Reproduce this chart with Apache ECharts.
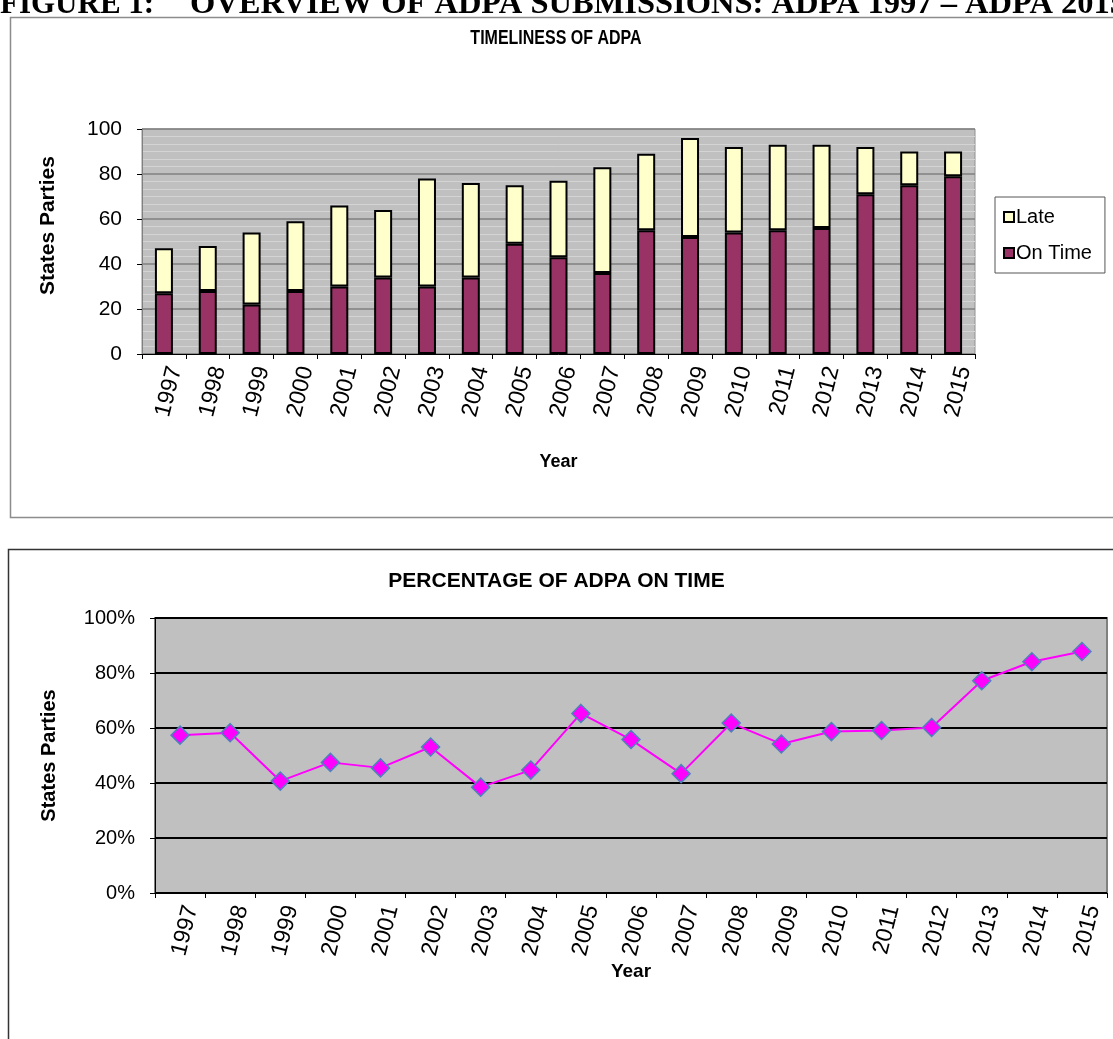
<!DOCTYPE html>
<html>
<head>
<meta charset="utf-8">
<style>
  html, body { margin: 0; padding: 0; background: #fff; }
  #chart { width: 1113px; height: 1039px; }
</style>
<script src="https://cdn.jsdelivr.net/npm/echarts@6/dist/echarts.min.js"></script>
</head>
<body>
<div id="chart"></div>
<script>
// data
var years = ['1997', '1998', '1999', '2000', '2001', '2002', '2003', '2004', '2005', '2006',
             '2007', '2008', '2009', '2010', '2011', '2012', '2013', '2014', '2015'];
var onTime = [27, 28, 22, 28, 30, 34, 30, 34, 49, 43, 36, 55, 52, 54, 55, 56, 71, 75, 79];
var late = [20, 20, 32, 31, 36, 30, 48, 42, 26, 34, 47, 34, 44, 38, 38, 37, 21, 15, 11];
var pctOnTime = [0.574, 0.583, 0.407, 0.475, 0.455, 0.531, 0.385, 0.447, 0.653, 0.558,
                 0.434, 0.618, 0.542, 0.587, 0.591, 0.602, 0.772, 0.841, 0.878];
var countTicks = [0, 20, 40, 60, 80, 100];
var pctTicks = [0, 0.2, 0.4, 0.6, 0.8, 1];

var font = 'Liberation Sans, Arial, sans-serif';
var serif = 'Liberation Serif, Times New Roman, serif';
var myChart = echarts.init(document.getElementById('chart'), null, { renderer: 'canvas' });

var yearLabel = { rotate: 76, fontSize: 23, color: '#000', margin: 10, verticalAlign: 'top' };

myChart.setOption({
  animation: false,
  textStyle: { fontFamily: font, color: '#000' },
  graphic: [
    { type: 'rect', shape: { x: 10.5, y: 17.5, width: 1120, height: 500 },
      style: { fill: 'none', stroke: '#8c8c8c', lineWidth: 1.5 } },
    { type: 'rect', shape: { x: 8.5, y: 549.5, width: 1120, height: 500 },
      style: { fill: 'none', stroke: '#333', lineWidth: 1.5 } },
    // page heading, cut off at the top like the scan
    { type: 'text', style: { x: 0, y: 5, text: 'FIGURE 1:', verticalAlign: 'middle',
      font: 'bold 31px ' + serif, fill: '#000' } },
    { type: 'text', style: { x: 190, y: 5, text: 'OVERVIEW OF ADPA SUBMISSIONS: ADPA 1997 \u2013 ADPA 2015',
      verticalAlign: 'middle', font: 'bold 32.5px ' + serif, fill: '#000' } },
    // narrow title of the top chart
    { type: 'text', x: 556, y: 38, scaleX: 0.8,
      style: { text: 'TIMELINESS OF ADPA', align: 'center', verticalAlign: 'middle',
        font: 'bold 20px ' + font, fill: '#000' } }
  ],
  title: [
    { text: 'PERCENTAGE OF ADPA ON TIME', left: 'center', top: 566,
      textStyle: { fontFamily: font, fontWeight: 'bold', fontSize: 21, color: '#000' } }
  ],
  legend: {
    orient: 'vertical',
    left: 995, top: 197,
    padding: [10, 13, 10, 8],
    itemGap: 16,
    itemWidth: 10, itemHeight: 10,
    borderColor: '#555', borderWidth: 1,
    data: [
      { name: 'Late', icon: 'rect', itemStyle: { borderColor: '#000', borderWidth: 2 } },
      { name: 'On Time', icon: 'rect', itemStyle: { borderColor: '#000', borderWidth: 2 } }
    ],
    textStyle: { fontSize: 20, color: '#000', padding: [0, 0, 0, -3] }
  },
  grid: [
    { left: 142, top: 129, width: 833, height: 225, show: true, backgroundColor: '#c0c0c0',
      borderColor: '#909090', borderWidth: 1 },
    { left: 155, top: 618, width: 952, height: 275, show: true, backgroundColor: '#c0c0c0',
      borderColor: '#808080', borderWidth: 2 }
  ],
  xAxis: [
    { type: 'category', gridIndex: 0, data: years,
      name: 'Year', nameLocation: 'middle', nameGap: 99,
      nameTextStyle: { fontWeight: 'bold', fontSize: 18 },
      axisLine: { lineStyle: { color: '#000', width: 1 } },
      axisTick: { show: true, length: 5, lineStyle: { color: '#000' } },
      axisLabel: yearLabel },
    { type: 'category', gridIndex: 1, data: years,
      name: 'Year', nameLocation: 'middle', nameGap: 65,
      nameTextStyle: { fontWeight: 'bold', fontSize: 19 },
      axisLine: { lineStyle: { color: '#000', width: 1 } },
      axisTick: { show: true, length: 5, lineStyle: { color: '#000' } },
      axisLabel: yearLabel }
  ],
  yAxis: [
    { type: 'value', gridIndex: 0, min: countTicks[0], max: countTicks[countTicks.length - 1], interval: 20,
      name: 'States Parties', nameLocation: 'middle', nameGap: 83,
      nameTextStyle: { fontWeight: 'bold', fontSize: 21, padding: [0, 0, 0, 32] },
      axisLine: { show: true, lineStyle: { color: '#808080' } },
      axisTick: { show: true, length: 5, lineStyle: { color: '#000' } },
      axisLabel: { fontSize: 21, color: '#000', margin: 20 },
      splitLine: { lineStyle: { color: '#808080', width: 1.5 } },
      minorTick: { show: false, splitNumber: 6 },
      minorSplitLine: { show: true, lineStyle: { color: '#d4d4d4', width: 1 } } },
    { type: 'value', gridIndex: 1, min: pctTicks[0], max: pctTicks[pctTicks.length - 1], interval: 0.2,
      name: 'States Parties', nameLocation: 'middle', nameGap: 96,
      nameTextStyle: { fontWeight: 'bold', fontSize: 20 },
      axisLine: { show: true, lineStyle: { color: '#000' } },
      axisTick: { show: true, length: 5, lineStyle: { color: '#000' } },
      axisLabel: { fontSize: 20, color: '#000', margin: 20,
        formatter: function (v) { return Math.round(v * 100) + '%'; } },
      splitLine: { lineStyle: { color: '#000', width: 2 } } }
  ],
  series: [
    { name: 'On Time', type: 'bar', stack: 'total', xAxisIndex: 0, yAxisIndex: 0,
      data: onTime, barWidth: 18,
      itemStyle: { color: '#993366', borderColor: '#000', borderWidth: 2 } },
    { name: 'Late', type: 'bar', stack: 'total', xAxisIndex: 0, yAxisIndex: 0,
      data: late, barWidth: 18,
      itemStyle: { color: '#ffffcc', borderColor: '#000', borderWidth: 2 } },
    { name: 'Percentage', type: 'line', xAxisIndex: 1, yAxisIndex: 1,
      data: pctOnTime,
      symbol: 'diamond', symbolSize: 18,
      lineStyle: { color: '#ff00ff', width: 2 },
      itemStyle: { color: '#ff00ff', borderColor: '#4f81bd', borderWidth: 1.5 } }
  ]
});
window.onresize = myChart.resize;
</script>
</body>
</html>
